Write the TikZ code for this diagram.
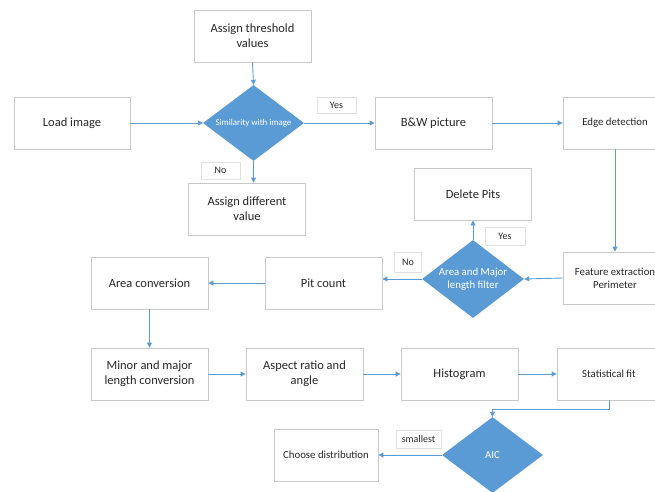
\documentclass[tikz,border=0pt]{standalone}
\usepackage{fontspec}
\setmainfont{Carlito}
\usetikzlibrary{arrows.meta,positioning,calc,shapes.geometric}
\definecolor{flowblue}{HTML}{5B9BD5}
\definecolor{boxgray}{HTML}{C9C9C9}

\begin{document}
\begin{tikzpicture}[x=1pt,y=-1pt,
  box/.style={draw=boxgray,line width=0.9pt,minimum width=117pt,minimum height=52pt,
    align=center,text=black!85,inner sep=2pt,font=\fontsize{12.5}{15}\selectfont},
  smallbox/.style={box,minimum width=104pt,font=\fontsize{10.8}{13}\selectfont},
  decision/.style={diamond,aspect=1.33,fill=flowblue,minimum width=101pt,minimum height=76pt,
    inner sep=0pt,align=center,text=white,font=\fontsize{10.8}{12.5}\selectfont},
  tag/.style={draw=black!12,fill=white,line width=0.6pt,inner sep=0pt,
    text=black!85,font=\fontsize{10}{12}\selectfont},
  flow/.style={draw=flowblue,line width=0.9pt,-{Triangle[length=5pt,width=5pt]}}]

\useasboundingbox (0,0) rectangle (655,491);

% Top row
\node[box] (thresh) at (252.5,36) {Assign threshold\\values};
\node[box,minimum width=116pt] (load) at (72,123) {Load image};
\node[decision,font=\fontsize{8.9}{10}\selectfont] (sim) at (253.5,123) {Similarity with image};
\node[box] (bw) at (433.5,123) {B\&W picture};
\node[smallbox] (edge) at (615,123) {Edge detection};
\node[box] (diff) at (247,209) {Assign different\\value};

% Filter row
\node[box] (del) at (473,194) {Delete Pits};
\node[decision,minimum width=102pt,minimum height=78pt] (filt) at (473,279) {Area and Major\\length filter};
\node[smallbox] (feat) at (615,278) {Feature extraction\\Perimeter};
\node[box] (pit) at (323.5,283) {Pit count};
\node[box] (area) at (149.5,283) {Area conversion};

% Measurement row
\node[box] (minor) at (149.5,374) {Minor and major\\length conversion};
\node[box] (aspect) at (304.5,374) {Aspect ratio and\\angle};
\node[box] (hist) at (459.5,374) {Histogram};
\node[smallbox] (stat) at (609,374) {Statistical fit};

% Choice
\node[decision] (aic) at (492.5,455) {AIC};
\node[smallbox] (choose) at (326,455) {Choose distribution};

% Labels
\node[tag,minimum width=39pt,minimum height=16pt] (yes1) at (336.5,105) {Yes};
\node[tag,minimum width=39pt,minimum height=17pt] (no1) at (220.5,170.5) {No};
\node[tag,minimum width=40pt,minimum height=18pt] (yes2) at (505,236) {Yes};
\node[tag,minimum width=27pt,minimum height=20pt] (no2) at (408,262) {No};
\node[tag,minimum width=45pt,minimum height=18pt] (smallest) at (418.5,439) {smallest};

% Connectors
\draw[flow] (thresh.south) -- (sim.north);
\draw[flow] (load) -- (sim);
\draw[flow] (sim) -- (bw);
\draw[flow] (bw) -- (edge);
\draw[flow] (sim.south) -- (sim.south |- diff.north);
\draw[flow] (edge) -- (feat);
\draw[flow] (feat.west) -- (filt.east);
\draw[flow] (filt.north) -- (del.south);
\draw[flow] (filt.west) -- (filt.west -| pit.east);
\draw[flow] (pit) -- (area);
\draw[flow] (area) -- (minor);
\draw[flow] (minor) -- (aspect);
\draw[flow] (aspect) -- (hist);
\draw[flow] (hist) -- (stat);
\draw[flow] (stat.south) -- ++(0,9) -| (aic.north);
\draw[flow] (aic) -- (choose);

\end{tikzpicture}
\end{document}
